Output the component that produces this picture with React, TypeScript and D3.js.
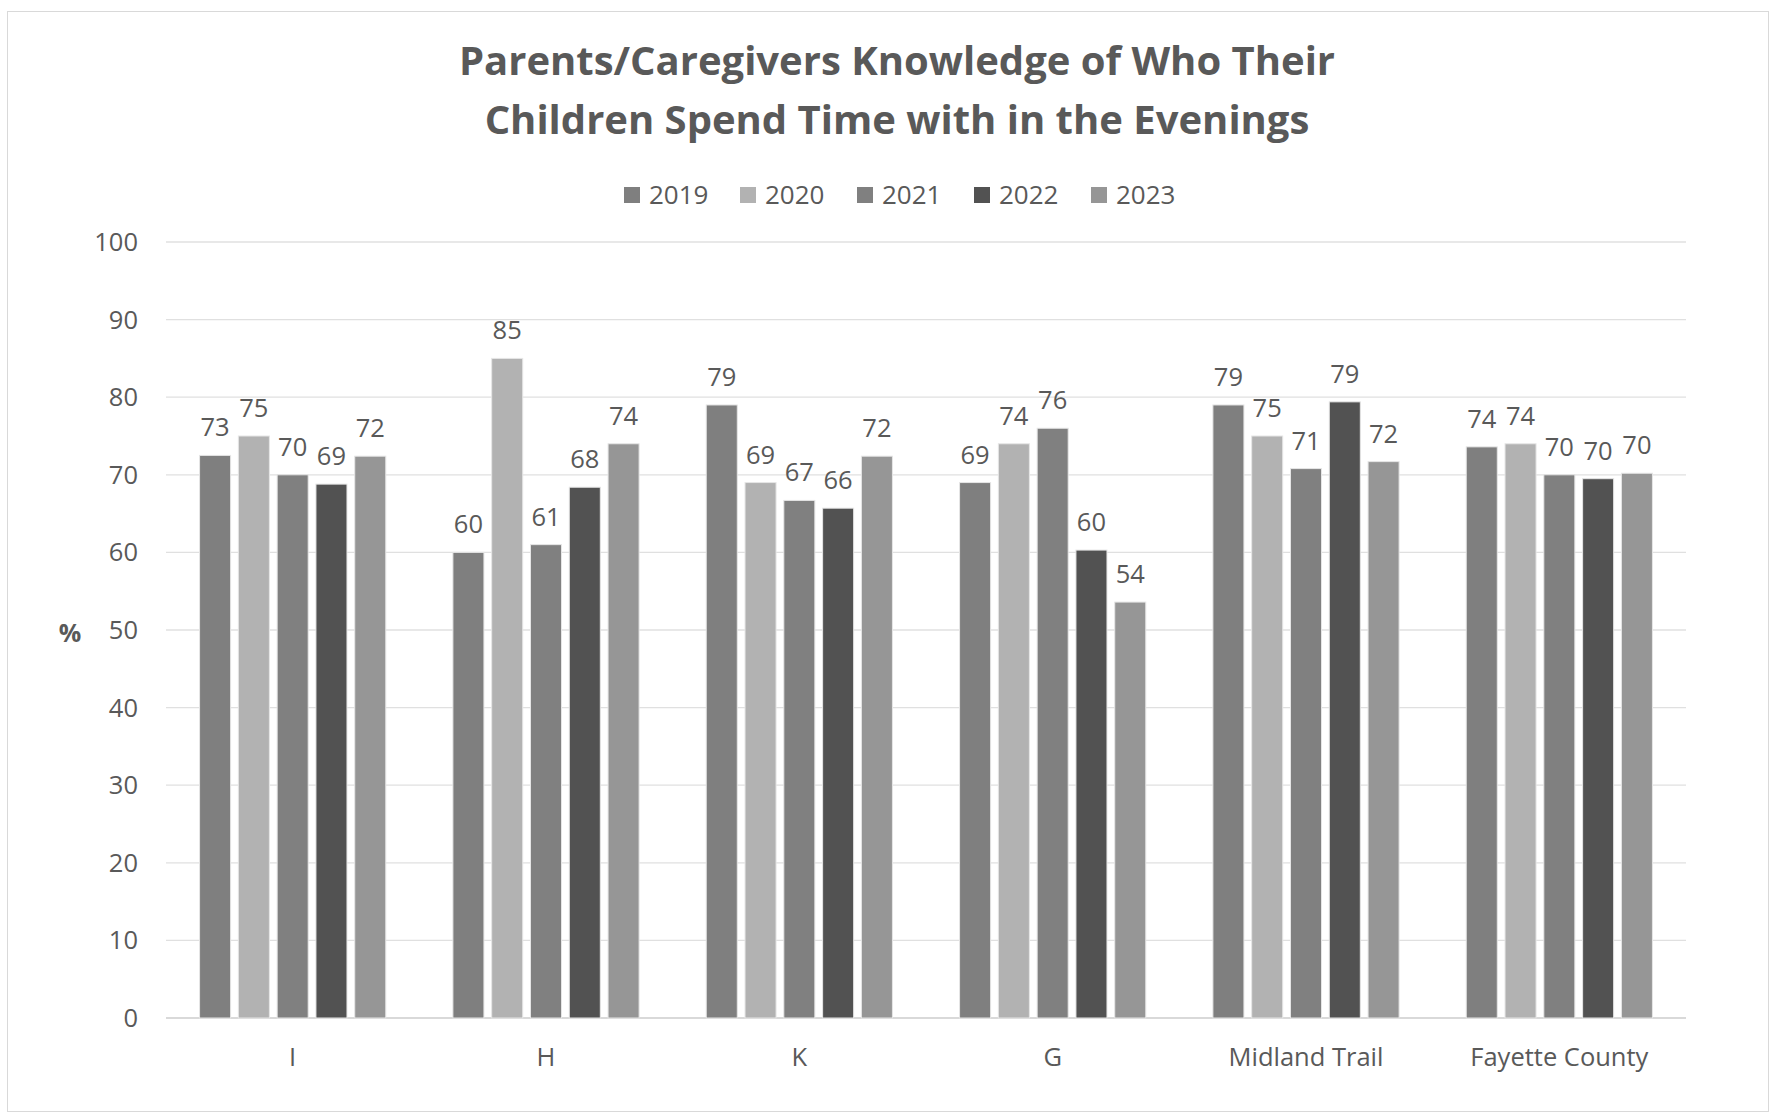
import React from 'react';
import * as d3 from 'd3';

const categories = ['I', 'H', 'K', 'G', 'Midland Trail', 'Fayette County'];
const years = ['2019', '2020', '2021', '2022', '2023'];
const v2019 = [72.5, 60, 79, 69, 79, 73.6];
const v2020 = [75, 85, 69, 74, 75, 74];
const v2021 = [70, 61, 66.7, 76, 70.8, 70];
const v2022 = [68.8, 68.4, 65.7, 60.3, 79.4, 69.5];
const v2023 = [72.4, 74, 72.4, 53.6, 71.7, 70.2];
const yTicks = [0, 10, 20, 30, 40, 50, 60, 70, 80, 90, 100];
const colors = ['#7f7f7f', '#b2b2b2', '#808080', '#525252', '#969696'];

const series = [v2019, v2020, v2021, v2022, v2023];

export default function App() {
  const W = 1769;
  const H = 1115;
  const left = 166;
  const right = 1686;
  const top = 242;
  const bottom = 1018;
  const font = "'Open Sans', sans-serif";

  const x = d3.scaleBand().domain(categories).range([left, right]).paddingInner(0.265).paddingOuter(0.1325);
  const xi = d3.scaleBand().domain(years).range([0, x.bandwidth()]).paddingInner(0.2);
  const y = d3.scaleLinear().domain([0, 100]).range([bottom, top]);

  const legendX = [624, 740, 857, 974, 1091];

  return (
    <svg width={W} height={H} style={{ position: 'absolute', left: 0, top: 0, background: '#fff' }}>
      <rect x={7.5} y={11.5} width={W - 8} height={1100} fill="#fff" stroke="#d9d9d9" />
      <text x={897} y={75} textAnchor="middle" fontFamily={font} fontWeight="bold" fontSize={40} fill="#595959">
        Parents/Caregivers Knowledge of Who Their
      </text>
      <text x={897} y={134} textAnchor="middle" fontFamily={font} fontWeight="bold" fontSize={40} fill="#595959">
        Children Spend Time with in the Evenings
      </text>
      {years.map((yr, i) => (
        <g key={yr} transform={`translate(${legendX[i]},195)`}>
          <rect x={0} y={-8} width={16} height={16} fill={colors[i]} />
          <text x={25} y={9} fontFamily={font} fontSize={26} fill="#595959">{yr}</text>
        </g>
      ))}
      {yTicks.map(t => (
        <g key={t}>
          <line x1={left} x2={right} y1={y(t)} y2={y(t)} stroke={t === 0 ? '#d9d9d9' : '#e0e0e0'} strokeWidth={t === 0 ? 2 : 1.3} />
          <text x={138} y={y(t) + 9} textAnchor="end" fontFamily={font} fontSize={25.5} fill="#595959">{t}</text>
        </g>
      ))}
      <text x={70} y={642} textAnchor="middle" fontFamily={font} fontWeight="bold" fontSize={25} fill="#595959">%</text>
      {categories.map((c, ci) => (
        <g key={c} transform={`translate(${x(c)},0)`}>
          {years.map((yr, si) => {
            const v = series[si][ci];
            const bx = xi(yr) as number;
            return (
              <g key={yr}>
                <rect x={bx} y={y(v)} width={xi.bandwidth()} height={bottom - y(v)} fill={colors[si]} stroke="#e6e6e6" strokeWidth={1} />
                <text x={bx + xi.bandwidth() / 2} y={y(v) - 19} textAnchor="middle" fontFamily={font} fontSize={25.5} fill="#595959">
                  {Math.round(v)}
                </text>
              </g>
            );
          })}
          <text x={x.bandwidth() / 2} y={1066} textAnchor="middle" fontFamily={font} fontSize={25.5} fill="#595959">{c}</text>
        </g>
      ))}
    </svg>
  );
}
